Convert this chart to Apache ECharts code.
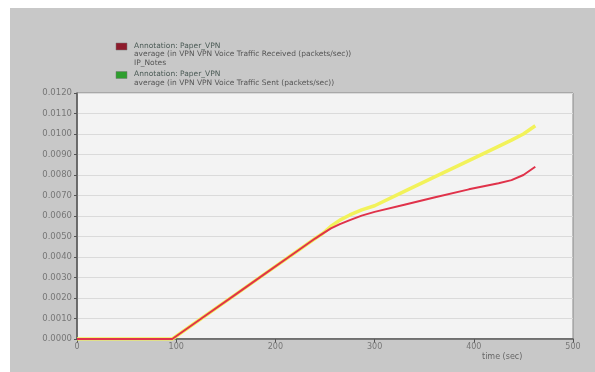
<!DOCTYPE html>
<html>
<head>
<meta charset="utf-8">
<script src="https://cdn.jsdelivr.net/npm/echarts@6/dist/echarts.min.js"></script>
<style>
  html, body { margin: 0; padding: 0; background: #ffffff; }
  #chart { width: 595px; height: 372px; }
</style>
</head>
<body>
<div id="chart"></div>
<script>
// Simulation time (sec)
const timeSec = [0, 50, 96, 130, 160, 190, 220, 240, 248, 256, 265, 275, 287, 300, 330, 360, 395, 425, 438, 450, 462];
// VPN voice traffic received (packets/sec), averaged
const received = [0, 0, 0, 0.00116, 0.00218, 0.0032, 0.00422, 0.0049, 0.00515, 0.0054, 0.0056, 0.0058, 0.00602, 0.0062, 0.00655, 0.0069, 0.0073, 0.0076, 0.00775, 0.0080, 0.0084];
// VPN voice traffic sent (packets/sec), averaged
const sent = [0, 0, 0, 0.00116, 0.00218, 0.0032, 0.00422, 0.0049, 0.00516, 0.0055, 0.0058, 0.00605, 0.0063, 0.0065, 0.0072, 0.0079, 0.0087, 0.0094, 0.0097, 0.0100, 0.0104];
// Axis ticks
const xTicks = [0, 100, 200, 300, 400, 500];
const yTickStep = 0.001;
const yMax = 0.012;

const legendRows = [
  { color: '#8e1b2c', lines: ['Annotation: Paper_VPN', 'average (in VPN VPN Voice Traffic Received (packets/sec))', 'IP_Notes'] },
  { color: '#2e9e2e', lines: ['Annotation: Paper_VPN', 'average (in VPN VPN Voice Traffic Sent (packets/sec))'] }
];

const pairs = (xs, ys) => xs.map((t, i) => [t, ys[i]]);

const chart = echarts.init(document.getElementById('chart'), null, { renderer: 'canvas' });

const graphics = [
  { type: 'rect', shape: { x: 10, y: 8, width: 585, height: 364 }, style: { fill: '#c8c8c8' }, z: -10 }
];
let ly = 43;
legendRows.forEach(row => {
  graphics.push({ type: 'rect', shape: { x: 116, y: ly, width: 11, height: 7 }, style: { fill: row.color, stroke: '#777', lineWidth: 0.5 } });
  row.lines.forEach((ln, i) => {
    graphics.push({
      type: 'text', x: 134, y: ly - 1 + i * 8.5,
      style: { text: ln, fill: i === 0 ? '#4a5a55' : '#555', font: '7.5px "DejaVu Sans"' }
    });
  });
  ly += row.lines.length * 8.5 + 3;
});
graphics.push({ type: 'text', x: 482, y: 353, style: { text: 'time (sec)', fill: '#666', font: '8px "DejaVu Sans"' } });

chart.setOption({
  backgroundColor: '#ffffff',
  animation: false,
  graphic: graphics,
  grid: {
    left: 77, right: 22, top: 93, bottom: 33,
    show: true, backgroundColor: '#f3f3f3', borderColor: '#888', borderWidth: 1
  },
  xAxis: {
    type: 'value', min: xTicks[0], max: xTicks[xTicks.length - 1], interval: 100,
    axisLine: { lineStyle: { color: '#555', width: 1.5 } },
    axisTick: { show: true, length: 4, lineStyle: { color: '#555' } },
    axisLabel: { color: '#777', fontSize: 8, fontFamily: 'DejaVu Sans', margin: 4 },
    splitLine: { show: false }
  },
  yAxis: {
    type: 'value', min: 0, max: yMax, interval: yTickStep,
    axisLine: { show: true, lineStyle: { color: '#555', width: 1.5 } },
    axisTick: { show: true, length: 3, lineStyle: { color: '#555' } },
    axisLabel: { color: '#777', fontSize: 8.5, fontFamily: 'DejaVu Sans', margin: 5, formatter: v => v.toFixed(4) },
    splitLine: { show: true, lineStyle: { color: '#dadada', width: 1 } }
  },
  series: [
    {
      name: 'Sent', type: 'line', data: pairs(timeSec, sent), smooth: false,
      symbol: 'none', lineStyle: { color: '#f2f25a', width: 3.5, join: 'round' }, z: 2
    },
    {
      name: 'Received', type: 'line', data: pairs(timeSec, received), smooth: false,
      symbol: 'none', lineStyle: { color: '#e0324a', width: 2, join: 'round' }, z: 3
    }
  ]
});
</script>
</body>
</html>
